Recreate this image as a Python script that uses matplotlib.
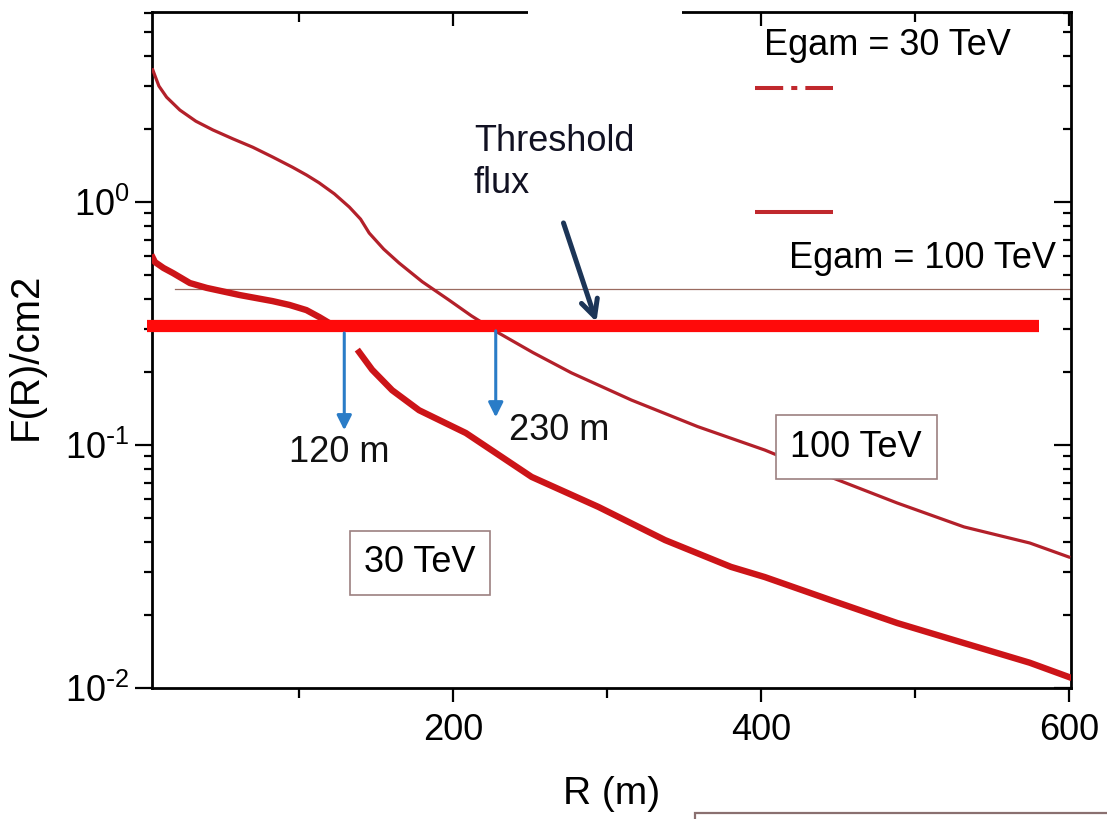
#!/usr/bin/env python3
"""Lateral flux F(R) vs core distance for 30 and 100 TeV gamma showers."""

import math

import matplotlib
matplotlib.use("Agg")
import matplotlib.pyplot as plt
from matplotlib.patches import Rectangle
from matplotlib.ticker import FuncFormatter

plt.rcParams["font.family"] = ["Liberation Sans", "DejaVu Sans"]
plt.rcParams["axes.unicode_minus"] = False

# 100 TeV curve (R in m, F in 1/cm2)
r_100 = [5, 6.5, 9, 14, 22.6, 33, 44, 57, 70, 83, 95.8, 105, 113, 123, 132.7,
         140, 145.6, 155, 165, 180, 197.4, 212, 229.7, 252, 277, 316, 359,
         402.6, 445, 488.6, 532, 574.7, 600]
f_100 = [3.5, 3.3, 3.0, 2.7, 2.39, 2.15, 1.98, 1.82, 1.68, 1.53, 1.39, 1.29, 1.20,
         1.08, 0.953, 0.85, 0.745, 0.64, 0.561, 0.47, 0.395, 0.34, 0.289, 0.24,
         0.198, 0.153, 0.119, 0.0953, 0.0739, 0.0577, 0.046, 0.0395, 0.0346]

# 30 TeV curve, drawn in two pieces (gap around the threshold crossing)
r_30a = [5, 6.4, 12, 18.1, 29.1, 40.1, 61.5, 82.8, 93.8, 104.8, 113.2, 121.7]
f_30a = [0.59, 0.566, 0.535, 0.510, 0.464, 0.443, 0.414, 0.391, 0.377, 0.359, 0.336, 0.312]
r_30b = [139.1, 147.5, 160.5, 178, 208.4, 251.1, 294.5, 337.8, 380.6, 402.6,
         445.3, 488.6, 532, 574.7, 600]
f_30b = [0.241, 0.204, 0.168, 0.139, 0.112, 0.0739, 0.0556, 0.0406, 0.0315, 0.0286,
         0.0230, 0.0185, 0.0153, 0.0127, 0.0111]

threshold_flux = 0.309
ref_flux = 0.438
r_cross_30 = 129.4
r_cross_100 = 227.8

RED_100 = "#b3202a"
RED_30 = "#cc1418"
ARROW_BLUE = "#2a7cc7"
NAVY = "#1c3557"
BOX_EDGE = "#9c8080"
FS = 26


def _decade_label(v, _pos):
    e = int(round(math.log10(v)))
    if e < 0:
        return "$\\mathdefault{10^{\\text{-}%d}}$" % (-e)
    return "$\\mathdefault{10^{%d}}$" % e


fig = plt.figure(figsize=(11.07, 8.19), dpi=100)
ax = fig.add_axes([0.1373, 0.160, 0.8302, 0.8253])
ax.set_yscale("log")
ax.set_xlim(4.5, 601.5)
ax.set_ylim(0.01, 6.05)

ax.plot(r_100, f_100, color=RED_100, lw=2.3, zorder=3)
ax.plot(r_30a, f_30a, color=RED_30, lw=4.6, zorder=3)
ax.plot(r_30b, f_30b, color=RED_30, lw=4.6, zorder=3)

# faint reference line and thick threshold line
ax.plot([19.4, 601.5], [ref_flux, ref_flux], color="#9a6b60", lw=0.9, zorder=2)
ax.plot([1.3, 580.5], [threshold_flux, threshold_flux], color="#ff0a0a", lw=8.8,
        solid_capstyle="butt", clip_on=False, zorder=4)

# crossing arrows
ax.annotate("", xy=(r_cross_30, 0.115), xytext=(r_cross_30, 0.289),
            arrowprops=dict(arrowstyle="-|>", color=ARROW_BLUE, lw=2.2,
                            mutation_scale=22, shrinkA=0, shrinkB=0), zorder=5)
ax.annotate("", xy=(r_cross_100, 0.13), xytext=(r_cross_100, 0.295),
            arrowprops=dict(arrowstyle="-|>", color=ARROW_BLUE, lw=2.2,
                            mutation_scale=22, shrinkA=0, shrinkB=0), zorder=5)
ax.text(126.2, 0.0934, "120 m", fontsize=FS, ha="center", va="center", color="#111111")
ax.text(269.2, 0.115, "230 m", fontsize=FS, ha="center", va="center", color="#111111")

# threshold flux pointer
ax.annotate("", xy=(293.2, 0.321), xytext=(271.8, 0.82),
            arrowprops=dict(arrowstyle="->", color=NAVY, lw=3.6,
                            mutation_scale=30, shrinkA=0, shrinkB=0), zorder=5)
ax.text(213.6, 1.45, "Threshold\nflux", fontsize=FS, ha="left", va="center",
        linespacing=1.25, color="#111122")

# energy boxes
box = dict(boxstyle="square,pad=0.4", fc="white", ec=BOX_EDGE, lw=1.2)
ax.text(178.6, 0.0327, "30 TeV", fontsize=FS, ha="center", va="center", bbox=box)
ax.text(462, 0.0981, "100 TeV", fontsize=FS, ha="center", va="center", bbox=box)

# hand-made legend
ax.text(482, 4.42, "Egam = 30 TeV", fontsize=FS, ha="center", va="center")
ax.plot([396, 446.6], [2.95, 2.95], color="#c0282d", lw=2.9,
        dashes=(7, 2, 1.5, 2), solid_capstyle="butt")
ax.plot([396, 446.6], [0.91, 0.91], color="#c0282d", lw=2.9, solid_capstyle="butt")
ax.text(504.8, 0.588, "Egam = 100 TeV", fontsize=FS, ha="center", va="center")

# axes styling
for s in ax.spines.values():
    s.set_linewidth(2.0)
ax.set_xticks([200, 400, 600])
ax.set_xticks([100, 300, 500], minor=True)
ax.yaxis.set_major_formatter(FuncFormatter(_decade_label))
ax.tick_params(axis="x", which="both", direction="out", top=True, labelsize=FS, pad=8, width=1.6)
ax.tick_params(axis="x", which="major", length=10)
ax.tick_params(axis="x", which="minor", length=7)
ax.tick_params(axis="y", which="both", direction="out", right=True, labelsize=FS, pad=4, width=1.6)
ax.tick_params(axis="y", which="major", length=12)
ax.tick_params(axis="y", which="minor", length=6)
# top and right ticks point inwards
for t in ax.xaxis.get_major_ticks() + ax.xaxis.get_minor_ticks():
    t.tick2line.set_marker(matplotlib.lines.TICKDOWN)
for t in ax.yaxis.get_major_ticks() + ax.yaxis.get_minor_ticks():
    t.tick2line.set_marker(matplotlib.lines.TICKLEFT)

ax.set_xlabel("R (m)", fontsize=28, labelpad=20)
ax.set_ylabel("F(R)/cm2", fontsize=29)
ax.yaxis.set_label_coords(-0.117, 0.49)

# gap in the top frame
ax.add_patch(Rectangle((0.409, 0.97), 0.168, 0.05, transform=ax.transAxes,
                       fc="white", ec="none", clip_on=False, zorder=10))

# partial box at the bottom edge of the figure
fig.patches.append(Rectangle((0.628, -0.01), 0.4, 0.0173, transform=fig.transFigure,
                             fc="none", ec="#8a7070", lw=1.6))

fig.savefig("out.png", dpi=100)
